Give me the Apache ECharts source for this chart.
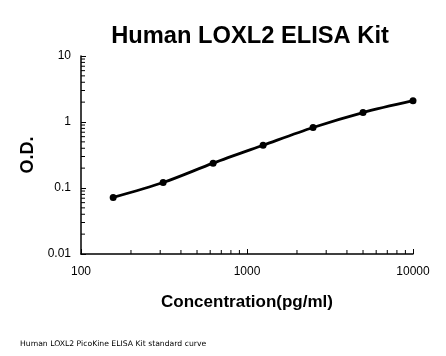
<!DOCTYPE html>
<html><head><meta charset="utf-8">
<script src="https://cdn.jsdelivr.net/npm/echarts@6/dist/echarts.min.js"></script>
<style>html,body{margin:0;padding:0;background:#fff}#c{width:446px;height:356px}</style>
</head><body><div id="c"></div>
<script>
const concentrations = [156.25, 312.5, 625, 1250, 2500, 5000, 10000];
const odValues = [0.072, 0.121, 0.238, 0.445, 0.826, 1.39, 2.10];
const xMinorTicks = [200,300,400,500,600,700,800,900,2000,3000,4000,5000,6000,7000,8000,9000];
const yMinorTicks = [0.02,0.03,0.04,0.05,0.06,0.07,0.08,0.09,0.2,0.3,0.4,0.5,0.6,0.7,0.8,0.9,2,3,4,5,6,7,8,9];
const xRange = [100, 10000];
const yRange = [0.01, 10];

const chart = echarts.init(document.getElementById('c'));
const fmt = v => String(parseFloat(Number(v).toPrecision(6)));
chart.setOption({
  animation: false,
  backgroundColor: '#fff',
  title: [{
    text: 'Human LOXL2 ELISA Kit', left: 245, top: 19, textAlign: 'center',
    textStyle: {fontFamily: 'Liberation Sans', fontWeight: 'bold', fontSize: 23.7, color: '#000'}
  }, {
    text: 'Human LOXL2 PicoKine ELISA Kit standard curve', left: 15, top: 335,
    textStyle: {fontFamily: 'DejaVu Sans', fontWeight: 'normal', fontSize: 7.7, color: '#000'}
  }],
  grid: {left: 81, right: 33, top: 56, bottom: 102},
  xAxis: {
    type: 'log', logBase: 10, min: xRange[0], max: xRange[1],
    name: 'Concentration(pg/ml)', nameLocation: 'middle', nameGap: 40,
    nameTextStyle: {fontFamily: 'Liberation Sans', fontWeight: 'bold', fontSize: 17, color: '#000'},
    axisLine: {lineStyle: {color: '#000', width: 1.5}},
    axisTick: {inside: true, length: 5, lineStyle: {color: '#000'}},
    axisLabel: {formatter: fmt, fontFamily: 'Liberation Sans', fontSize: 12, color: '#000', margin: 12},
    splitLine: {show: false}
  },
  yAxis: {
    type: 'log', logBase: 10, min: yRange[0], max: yRange[1],
    name: 'O.D.', nameLocation: 'middle', nameGap: 35, nameRotate: 90,
    nameTextStyle: {fontFamily: 'Liberation Sans', fontWeight: 'bold', fontSize: 18, color: '#000'},
    axisLine: {show: true, lineStyle: {color: '#000', width: 1.5}},
    axisTick: {show: true, inside: true, length: 5, lineStyle: {color: '#000'}},
    axisLabel: {formatter: fmt, fontFamily: 'Liberation Sans', fontSize: 12, color: '#000', margin: 10},
    splitLine: {show: false}
  },
  series: [{
    type: 'line', smooth: 0.3,
    data: concentrations.map((c, i) => [c, odValues[i]]),
    symbol: 'circle', symbolSize: 7,
    lineStyle: {color: '#000', width: 2.8},
    itemStyle: {color: '#000'}
  }, {
    type: 'custom', silent: true,
    data: xMinorTicks.map(v => [v, yRange[0]]),
    renderItem: (params, api) => {
      const p = api.coord([api.value(0), api.value(1)]);
      return {type: 'line', shape: {x1: p[0], y1: p[1], x2: p[0], y2: p[1] - 4}, style: {stroke: '#000', lineWidth: 1}};
    }
  }, {
    type: 'custom', silent: true,
    data: yMinorTicks.map(v => [xRange[0], v]),
    renderItem: (params, api) => {
      const p = api.coord([api.value(0), api.value(1)]);
      return {type: 'line', shape: {x1: p[0], y1: p[1], x2: p[0] + 4, y2: p[1]}, style: {stroke: '#000', lineWidth: 1}};
    }
  }]
});
</script></body></html>
